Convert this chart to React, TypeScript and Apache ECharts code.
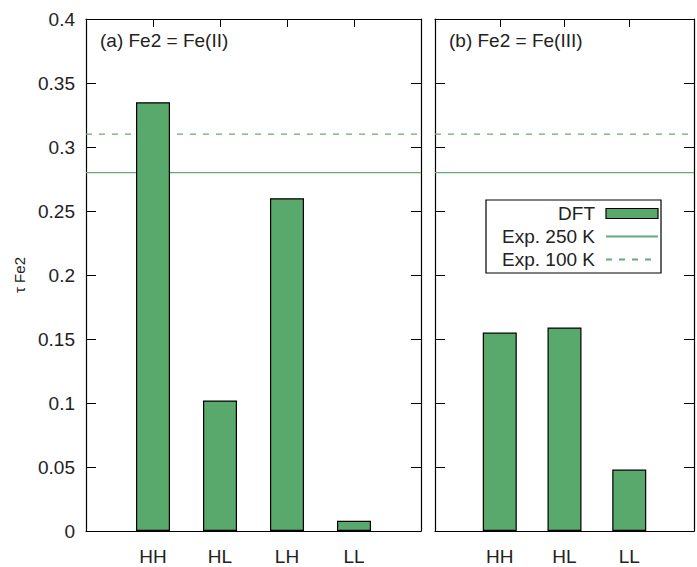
import React, { useEffect, useRef } from "react";
import * as echarts from "echarts";

// Oxidation-state comparison for the Fe2 site
const categoriesA = ["HH", "HL", "LH", "LL"];
const valuesA = [0.335, 0.102, 0.26, 0.008];
const categoriesB = ["HH", "HL", "LL"];
const valuesB = [0.155, 0.159, 0.048];
const exp250K = 0.28;
const exp100K = 0.31;
const panelTitles = ["(a) Fe2 = Fe(II)", "(b) Fe2 = Fe(III)"];

const FONT = "'Liberation Sans', Arial, sans-serif";
const BAR_COLOR = "#58a96b";
const LINE_COLOR = "#62ac76";
const TEXT_COLOR = "#222";

const panels = [
  { cats: categoriesA, vals: valuesA, left: 86, width: 335 },
  { cats: categoriesB, vals: valuesB, left: 435, width: 268 },
];

export default function App() {
  const ref = useRef<HTMLDivElement>(null);

  useEffect(() => {
    if (!ref.current) return;
    const chart = echarts.init(ref.current, undefined, { renderer: "svg" });

    const grids: any[] = [];
    const xAxes: any[] = [];
    const yAxes: any[] = [];
    const series: any[] = [];

    panels.forEach((p, i) => {
      const xMax = p.cats.length + 1;
      grids.push({ left: p.left, top: 19, width: p.width, height: 512 });

      const axisLine = { show: true, onZero: false, lineStyle: { color: "#000", width: 1.2 } };
      const xTick = { show: true, inside: true, length: 8, lineStyle: { color: "#000" } };
      const yTick = { show: true, inside: true, length: 10, lineStyle: { color: "#000" } };

      // bottom axis carrying the configuration labels
      xAxes.push({
        gridIndex: i,
        type: "value",
        position: "bottom",
        min: 0,
        max: xMax,
        interval: 1,
        splitLine: { show: false },
        axisLine,
        axisTick: xTick,
        axisLabel: {
          formatter: (v: number) => p.cats[v - 1] ?? "",
          fontFamily: FONT,
          fontSize: 19,
          color: TEXT_COLOR,
          margin: 16,
        },
      });
      // mirrored top axis
      xAxes.push({
        gridIndex: i,
        type: "value",
        position: "top",
        min: 0,
        max: xMax,
        interval: 1,
        splitLine: { show: false },
        axisLine,
        axisTick: xTick,
        axisLabel: { show: false },
      });
      yAxes.push({
        gridIndex: i,
        type: "value",
        position: "left",
        min: 0,
        max: 0.4,
        interval: 0.05,
        splitLine: { show: false },
        axisLine,
        axisTick: yTick,
        axisLabel: {
          show: i === 0,
          fontFamily: FONT,
          fontSize: 19,
          color: TEXT_COLOR,
          margin: 11,
        },
        name: i === 0 ? "τ Fe2" : "",
        nameLocation: "middle",
        nameRotate: 90,
        nameGap: 59,
        nameTextStyle: { fontFamily: FONT, fontSize: 15, color: TEXT_COLOR },
      });
      // mirrored right axis
      yAxes.push({
        gridIndex: i,
        type: "value",
        position: "right",
        min: 0,
        max: 0.4,
        interval: 0.05,
        splitLine: { show: false },
        axisLine,
        axisTick: yTick,
        axisLabel: { show: false },
      });

      series.push({
        name: "Exp. 250 K",
        type: "line",
        xAxisIndex: i * 2,
        yAxisIndex: i * 2,
        data: [
          [0, exp250K],
          [xMax, exp250K],
        ],
        symbol: "none",
        lineStyle: { color: LINE_COLOR, width: 1.2 },
        itemStyle: { color: LINE_COLOR },
        z: 1,
      });
      series.push({
        name: "Exp. 100 K",
        type: "line",
        xAxisIndex: i * 2,
        yAxisIndex: i * 2,
        data: [
          [0, exp100K],
          [xMax, exp100K],
        ],
        symbol: "none",
        lineStyle: { color: LINE_COLOR, width: 1.2, type: [6, 7] },
        itemStyle: { color: LINE_COLOR },
        z: 1,
      });
      series.push({
        name: "DFT",
        type: "bar",
        xAxisIndex: i * 2,
        yAxisIndex: i * 2,
        data: p.vals.map((v, k) => [k + 1, v]),
        barWidth: 34,
        itemStyle: { color: BAR_COLOR, borderColor: "#000", borderWidth: 1.2 },
        z: 3,
      });
    });

    chart.setOption({
      animation: false,
      backgroundColor: "#fff",
      title: panelTitles.map((t, i) => ({
        text: t,
        left: panels[i].left + 14,
        top: 31,
        padding: 0,
        textStyle: { fontFamily: FONT, fontSize: 19, fontWeight: "normal", color: TEXT_COLOR },
      })),
      legend: {
        data: [
          { name: "DFT", icon: "rect", itemStyle: { borderWidth: 1.2, borderColor: "#000" } },
          { name: "Exp. 250 K", itemStyle: { opacity: 0 } },
          { name: "Exp. 100 K", itemStyle: { opacity: 0 } },
        ],
        orient: "vertical",
        left: 486,
        top: 200,
        align: "right",
        itemWidth: 52,
        itemHeight: 10,
        itemGap: 2,
        padding: [3, 2, 3, 6],
        borderColor: "#000",
        borderWidth: 1.2,
        textStyle: {
          fontFamily: FONT,
          fontSize: 19,
          lineHeight: 21,
          color: TEXT_COLOR,
          width: 103,
          align: "right",
          padding: [0, 6, 0, 0],
        },
      },
      grid: grids,
      xAxis: xAxes,
      yAxis: yAxes,
      series,
    });

    return () => chart.dispose();
  }, []);

  return (
    <div
      ref={ref}
      style={{ position: "absolute", left: 0, top: 0, width: 697, height: 567, background: "#fff" }}
    />
  );
}
